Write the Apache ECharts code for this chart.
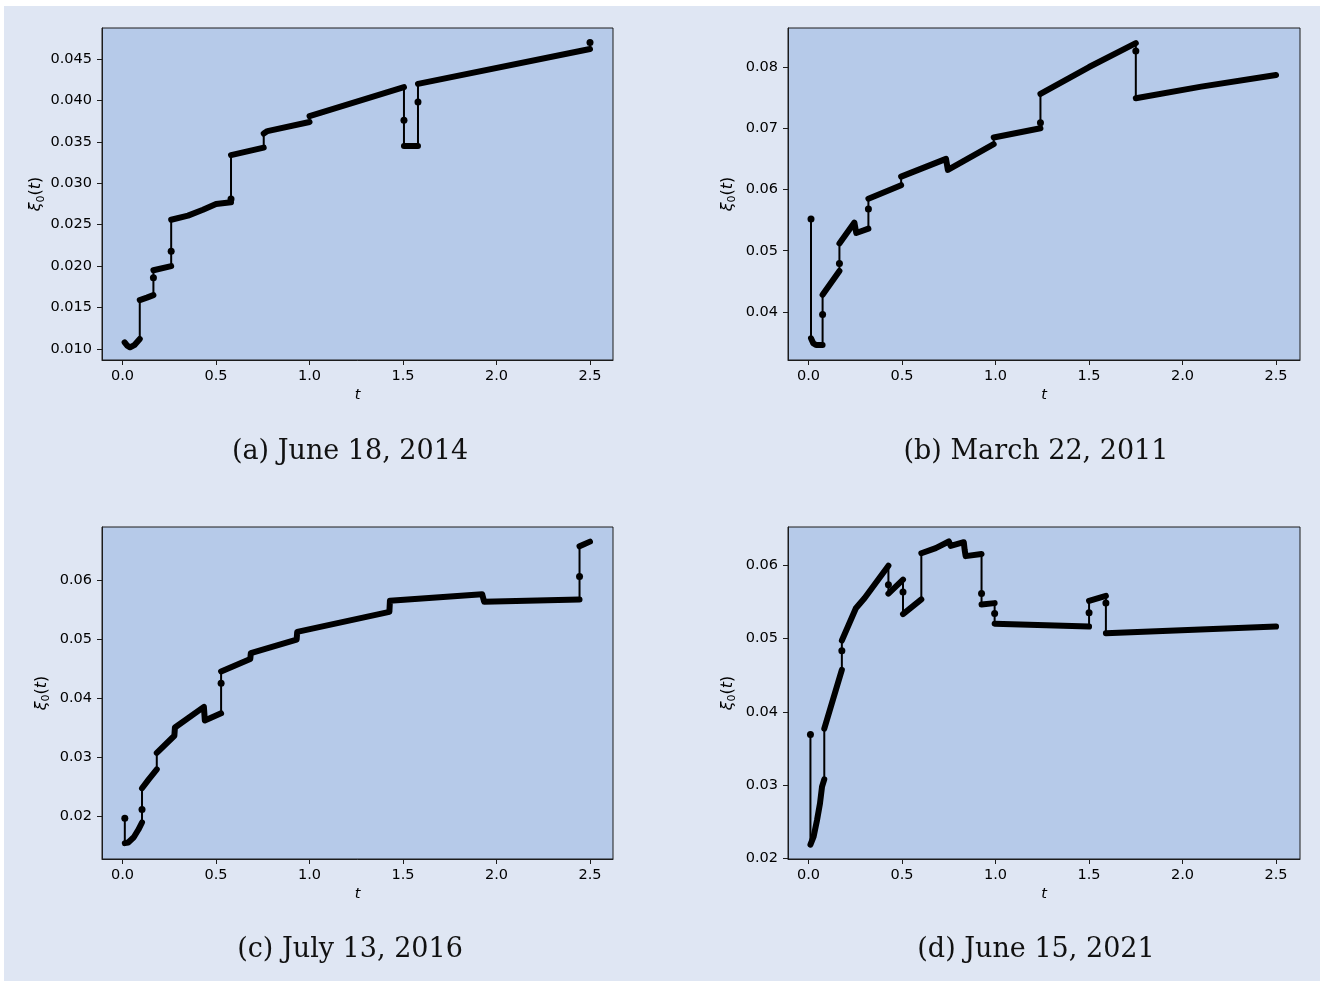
<!DOCTYPE html>
<html>
<head>
<meta charset="utf-8">
<script src="https://cdn.jsdelivr.net/npm/echarts@6/dist/echarts.min.js"></script>
<style>
  html, body { margin: 0; padding: 0; background: #ffffff; width: 1320px; height: 981px; overflow: hidden; }
  #chart { position: absolute; left: 4px; top: 6px; width: 1316px; height: 975px; }
</style>
</head>
<body>
<div id="chart"></div>
<script>
// ---- xi_0(t) paths: time t and value; repeated t marks a jump ----
const tA  = [0.011, 0.025, 0.040, 0.065, 0.092, 0.092, 0.130, 0.165, 0.165, 0.165, 0.260, 0.260, 0.260, 0.350, 0.430, 0.500, 0.580, 0.580, 0.580, 0.755, 0.755, 0.775, 1.000, 1.000, 1.505, 1.505, 1.505, 1.580, 1.580, 1.580, 2.500, 2.500];
const xiA = [0.0108, 0.0104, 0.0102, 0.0105, 0.0112, 0.0159, 0.0162, 0.0165, 0.0186, 0.0195, 0.0200, 0.0218, 0.0256, 0.0261, 0.0268, 0.0275, 0.0277, 0.0281, 0.0334, 0.0343, 0.0360, 0.0363, 0.0374, 0.0381, 0.0416, 0.0376, 0.0345, 0.0345, 0.0398, 0.0420, 0.0462, 0.0470];

const tB  = [0.013, 0.013, 0.025, 0.040, 0.075, 0.075, 0.075, 0.165, 0.165, 0.165, 0.245, 0.255, 0.320, 0.320, 0.320, 0.495, 0.495, 0.735, 0.745, 0.990, 0.990, 1.240, 1.240, 1.240, 1.500, 1.750, 1.750, 1.750, 2.100, 2.500];
const xiB = [0.0552, 0.0357, 0.0349, 0.0346, 0.0346, 0.0396, 0.0428, 0.0467, 0.0479, 0.0512, 0.0546, 0.0529, 0.0536, 0.0568, 0.0585, 0.0607, 0.0621, 0.0650, 0.0632, 0.0674, 0.0685, 0.0700, 0.0709, 0.0756, 0.0800, 0.0839, 0.0826, 0.0749, 0.0768, 0.0787];

const tC  = [0.012, 0.012, 0.030, 0.060, 0.085, 0.104, 0.104, 0.104, 0.140, 0.183, 0.183, 0.277, 0.280, 0.435, 0.440, 0.527, 0.527, 0.527, 0.683, 0.686, 0.931, 0.934, 1.427, 1.430, 1.923, 1.934, 2.444, 2.444, 2.444, 2.500];
const xiC = [0.0196, 0.0154, 0.0155, 0.0164, 0.0177, 0.0189, 0.0211, 0.0247, 0.0262, 0.0279, 0.0307, 0.0336, 0.0350, 0.0385, 0.0362, 0.0374, 0.0425, 0.0445, 0.0466, 0.0476, 0.0499, 0.0512, 0.0546, 0.0565, 0.0576, 0.0563, 0.0567, 0.0606, 0.0657, 0.0665];

const tD  = [0.010, 0.010, 0.027, 0.045, 0.061, 0.072, 0.084, 0.084, 0.178, 0.178, 0.178, 0.253, 0.300, 0.427, 0.427, 0.427, 0.505, 0.505, 0.505, 0.603, 0.603, 0.680, 0.750, 0.760, 0.830, 0.835, 0.840, 0.925, 0.925, 0.925, 0.995, 0.995, 0.995, 1.500, 1.500, 1.500, 1.590, 1.590, 1.590, 2.500];
const xiD = [0.0369, 0.0219, 0.0230, 0.0252, 0.0275, 0.0298, 0.0308, 0.0377, 0.0457, 0.0483, 0.0497, 0.0541, 0.0555, 0.0599, 0.0573, 0.0561, 0.0580, 0.0563, 0.0533, 0.0553, 0.0616, 0.0623, 0.0632, 0.0626, 0.0631, 0.0620, 0.0612, 0.0615, 0.0561, 0.0546, 0.0548, 0.0534, 0.0520, 0.0516, 0.0535, 0.0551, 0.0558, 0.0548, 0.0507, 0.0516];

// ---- tick values ----
const xTicks  = [0.0, 0.5, 1.0, 1.5, 2.0, 2.5];
const yTicksA = [0.010, 0.015, 0.020, 0.025, 0.030, 0.035, 0.040, 0.045];
const yTicksB = [0.04, 0.05, 0.06, 0.07, 0.08];
const yTicksC = [0.02, 0.03, 0.04, 0.05, 0.06];
const yTicksD = [0.02, 0.03, 0.04, 0.05, 0.06];

// ---- captions ----
const captions = ['(a) June 18, 2014', '(b) March 22, 2011', '(c) July 13, 2016', '(d) June 15, 2021'];

// ---- layout (page pixels) ----
const OX = 4, OY = 6;
const panels = [
  { T: tA, XI: xiA, yTicks: yTicksA, dec: 3, box: [102, 28, 511, 332], x: [-0.110, 2.623], y: [0.00867, 0.04874], cap: [350, 452] },
  { T: tB, XI: xiB, yTicks: yTicksB, dec: 2, box: [788, 28, 512, 332], x: [-0.110, 2.628], y: [0.03216, 0.08637], cap: [1036, 452] },
  { T: tC, XI: xiC, yTicks: yTicksC, dec: 2, box: [102, 527, 511, 332], x: [-0.110, 2.623], y: [0.01271, 0.06898], cap: [350, 950] },
  { T: tD, XI: xiD, yTicks: yTicksD, dec: 2, box: [788, 527, 512, 332], x: [-0.110, 2.628], y: [0.01994, 0.06517], cap: [1036, 950] }
];

const INK = '#000000';
const FRAME = '#1c1c1c';
const PLOT_BG = '#b6cae9';
const SANS = 'DejaVu Sans';

const grid = [], xAxis = [], yAxis = [], series = [], title = [];

panels.forEach((p, k) => {
  const [left, top, w, h] = p.box;
  grid.push({
    left: left - OX, top: top - OY, width: w, height: h,
    show: true, backgroundColor: PLOT_BG, borderColor: FRAME, borderWidth: 1,
    containLabel: false, outerBoundsMode: 'none'
  });
  xAxis.push({
    type: 'value', gridIndex: k, min: p.x[0], max: p.x[1],
    splitLine: { show: false },
    axisLine: { show: true, onZero: false, lineStyle: { color: FRAME, width: 1 } },
    axisTick: { show: true, length: 5, customValues: xTicks, lineStyle: { color: FRAME, width: 1 } },
    axisLabel: { customValues: xTicks, margin: 9, color: INK, fontFamily: SANS, fontSize: 14.5,
                 formatter: v => v.toFixed(1) },
    name: 't', nameLocation: 'middle', nameGap: 28,
    nameTextStyle: { fontFamily: SANS, fontStyle: 'italic', fontSize: 14.5, color: INK }
  });
  yAxis.push({
    type: 'value', gridIndex: k, min: p.y[0], max: p.y[1],
    splitLine: { show: false },
    axisLine: { show: true, onZero: false, lineStyle: { color: FRAME, width: 1 } },
    axisTick: { show: true, length: 5, customValues: p.yTicks, lineStyle: { color: FRAME, width: 1 } },
    axisLabel: { customValues: p.yTicks, margin: 10, color: INK, fontFamily: SANS, fontSize: 14.5,
                 formatter: v => v.toFixed(p.dec) },
    name: '{i|ξ}{s|0}{p|(}{i|t}{p|)}', nameLocation: 'middle', nameRotate: 90, nameGap: 50,
    nameTextStyle: {
      color: INK,
      rich: {
        i: { fontFamily: SANS, fontStyle: 'italic', fontSize: 16, lineHeight: 21, color: INK },
        p: { fontFamily: SANS, fontSize: 16, lineHeight: 21, color: INK },
        s: { fontFamily: SANS, fontSize: 11, lineHeight: 11, verticalAlign: 'bottom', color: INK }
      }
    }
  });

  const T = p.T, XI = p.XI, n = T.length;
  const all = T.map((t, i) => [t, XI[i]]);

  // runs of densely sampled points (t advancing) are drawn as a heavy stroke
  const dense = [];
  let last = -1;
  for (let i = 0; i < n - 1; i++) {
    if (T[i + 1] !== T[i]) {
      if (last !== i) {
        if (dense.length) dense.push([T[i], '-']);
        dense.push(all[i]);
      }
      dense.push(all[i + 1]);
      last = i + 1;
    }
  }
  // single samples inside a jump
  const dots = [];
  for (let i = 0; i < n; i++) {
    const prevSame = i === 0 || T[i - 1] === T[i];
    const nextSame = i === n - 1 || T[i + 1] === T[i];
    if (prevSame && nextSame) dots.push(all[i]);
  }

  series.push({
    type: 'line', xAxisIndex: k, yAxisIndex: k, data: all,
    symbol: 'none', animation: false, silent: true, z: 2,
    lineStyle: { color: INK, width: 2, cap: 'round', join: 'round' }
  });
  series.push({
    type: 'line', xAxisIndex: k, yAxisIndex: k, data: dense, connectNulls: false,
    symbol: 'none', animation: false, silent: true, z: 3,
    lineStyle: { color: INK, width: 6, cap: 'round', join: 'round' }
  });
  series.push({
    type: 'scatter', xAxisIndex: k, yAxisIndex: k, data: dots,
    symbol: 'circle', symbolSize: 7, animation: false, silent: true, z: 4,
    itemStyle: { color: INK, opacity: 1 }
  });

  title.push({
    text: captions[k], left: p.cap[0] - OX, top: p.cap[1] - 15 - OY, textAlign: 'center', padding: 0,
    textStyle: { fontFamily: 'DejaVu Serif', fontSize: 27, fontWeight: 'normal', color: '#111111', lineHeight: 30 }
  });
});

const chart = echarts.init(document.getElementById('chart'), null, { renderer: 'canvas' });
chart.setOption({
  backgroundColor: '#dfe6f3',
  animation: false,
  title, grid, xAxis, yAxis, series
});
</script>
</body>
</html>
